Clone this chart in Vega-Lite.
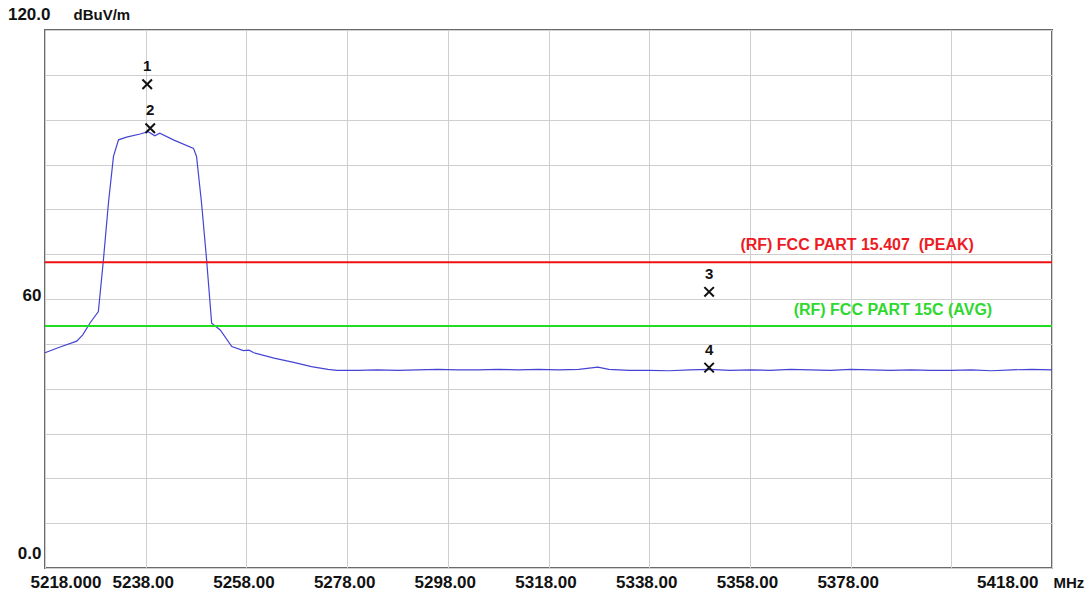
{
  "$schema": "https://vega.github.io/schema/vega-lite/v6.json",
  "width": 1007,
  "height": 538,
  "autosize": {"type": "none"},
  "padding": {"left": 45, "top": 30, "right": 40, "bottom": 26},
  "background": "white",
  "config": {
    "view": {"stroke": "#6a6a6a", "strokeWidth": 2},
    "font": "Liberation Sans"
  },
  "datasets": {
    "trace": [
      {"freq": 5218.0, "level": 48.0},
      {"freq": 5221.0, "level": 49.3},
      {"freq": 5224.3, "level": 50.6},
      {"freq": 5225.5, "level": 52.0},
      {"freq": 5226.9, "level": 54.6},
      {"freq": 5228.6, "level": 57.2},
      {"freq": 5229.6, "level": 68.7},
      {"freq": 5230.6, "level": 81.4},
      {"freq": 5231.6, "level": 91.8},
      {"freq": 5232.6, "level": 95.5},
      {"freq": 5234.2, "level": 96.1},
      {"freq": 5236.9, "level": 96.8},
      {"freq": 5238.5, "level": 97.3},
      {"freq": 5239.8, "level": 96.4},
      {"freq": 5240.8, "level": 97.0},
      {"freq": 5243.5, "level": 95.5},
      {"freq": 5247.5, "level": 93.6},
      {"freq": 5248.1, "level": 91.8},
      {"freq": 5249.1, "level": 81.3},
      {"freq": 5250.1, "level": 68.7},
      {"freq": 5251.1, "level": 54.6},
      {"freq": 5252.8, "level": 53.1},
      {"freq": 5255.1, "level": 49.4},
      {"freq": 5257.4, "level": 48.5},
      {"freq": 5258.5, "level": 48.6},
      {"freq": 5259.5, "level": 48.0},
      {"freq": 5263.5, "level": 46.8},
      {"freq": 5267.6, "level": 45.8},
      {"freq": 5270.9, "level": 44.9},
      {"freq": 5274.2, "level": 44.3},
      {"freq": 5276.0, "level": 44.1},
      {"freq": 5280.0, "level": 44.1},
      {"freq": 5284.0, "level": 44.2},
      {"freq": 5288.0, "level": 44.1},
      {"freq": 5292.0, "level": 44.2},
      {"freq": 5296.0, "level": 44.3},
      {"freq": 5300.0, "level": 44.2},
      {"freq": 5304.0, "level": 44.2},
      {"freq": 5308.0, "level": 44.3},
      {"freq": 5312.0, "level": 44.2},
      {"freq": 5316.0, "level": 44.3},
      {"freq": 5320.0, "level": 44.2},
      {"freq": 5324.0, "level": 44.3},
      {"freq": 5327.8, "level": 44.8},
      {"freq": 5330.0, "level": 44.3},
      {"freq": 5334.0, "level": 44.1},
      {"freq": 5338.0, "level": 44.1},
      {"freq": 5342.0, "level": 44.0},
      {"freq": 5346.0, "level": 44.2},
      {"freq": 5350.0, "level": 44.3},
      {"freq": 5354.0, "level": 44.1},
      {"freq": 5358.0, "level": 44.2},
      {"freq": 5362.0, "level": 44.1},
      {"freq": 5366.0, "level": 44.3},
      {"freq": 5370.0, "level": 44.2},
      {"freq": 5374.0, "level": 44.1},
      {"freq": 5378.0, "level": 44.3},
      {"freq": 5382.0, "level": 44.2},
      {"freq": 5386.0, "level": 44.1},
      {"freq": 5390.0, "level": 44.2},
      {"freq": 5394.0, "level": 44.1},
      {"freq": 5398.0, "level": 44.1},
      {"freq": 5402.0, "level": 44.2},
      {"freq": 5406.0, "level": 44.0},
      {"freq": 5410.0, "level": 44.2},
      {"freq": 5414.0, "level": 44.3},
      {"freq": 5418.0, "level": 44.2}
    ],
    "limits": [
      {"limit": "(RF) FCC PART 15.407\u00a0 (PEAK)", "level": 68.2},
      {"limit": "(RF) FCC PART 15C (AVG)", "level": 54.0}
    ],
    "markers": [
      {"marker": "1", "freq": 5238.3, "level": 107.9},
      {"marker": "2", "freq": 5238.9, "level": 98.1},
      {"marker": "3", "freq": 5349.9, "level": 61.6},
      {"marker": "4", "freq": 5349.9, "level": 44.7}
    ]
  },
  "layer": [
    {
      "data": {"name": "trace"},
      "mark": {"type": "line", "color": "#4444d4", "strokeWidth": 1.2, "interpolate": "linear"},
      "encoding": {
        "x": {
          "field": "freq", "type": "quantitative",
          "scale": {"domain": [5218, 5418], "nice": false, "zero": false},
          "axis": {
            "values": [5218, 5238, 5258, 5278, 5298, 5318, 5338, 5358, 5378, 5398, 5418],
            "labelExpr": "datum.value == 5218 ? '5218.000' : (datum.value == 5398 ? '' : format(datum.value, '.2f'))",
            "labelAlign": {"condition": [{"test": "datum.value == 5218", "value": "left"}, {"test": "datum.value == 5418", "value": "right"}], "value": "center"},
            "labelOffset": {"condition": [{"test": "datum.value == 5218", "value": -15}, {"test": "datum.value == 5418", "value": -14}], "value": -3},
            "labelFlush": false,
            "labelOverlap": false,
            "labelFont": "Liberation Sans",
            "labelFontSize": 17,
            "labelFontWeight": "bold",
            "labelColor": "#111111",
            "labelBaseline": "middle",
            "labelPadding": 14,
            "ticks": false,
            "tickSize": 0,
            "domain": false,
            "grid": true,
            "gridColor": "#cfcfcf",
            "gridWidth": 1,
            "title": "MHz",
            "titleFont": "Liberation Sans",
            "titleFontSize": 15,
            "titleFontWeight": "bold",
            "titleColor": "#111111",
            "titleAlign": "left",
            "titleBaseline": "middle",
            "titleAnchor": null,
            "titleX": 1008,
            "titleY": 14
          }
        },
        "y": {
          "field": "level", "type": "quantitative",
          "scale": {"domain": [0, 120], "nice": false, "zero": false},
          "axis": {
            "values": [0, 10, 20, 30, 40, 50, 60, 70, 80, 90, 100, 110, 120],
            "labelExpr": "datum.value == 0 ? '0.0' : (datum.value == 60 ? '60' : (datum.value == 120 ? '120.0' : ''))",
            "labelOffset": {"condition": [{"test": "datum.value == 120", "value": -16}, {"test": "datum.value == 0", "value": -15}], "value": -4},
            "labelPadding": {"condition": {"test": "datum.value == 120", "value": -5}, "value": 4},
            "labelAlign": "right",
            "labelBaseline": "middle",
            "labelFlush": false,
            "labelOverlap": false,
            "labelFont": "Liberation Sans",
            "labelFontSize": 17,
            "labelFontWeight": "bold",
            "labelColor": "#111111",
            "ticks": false,
            "tickSize": 0,
            "domain": false,
            "grid": true,
            "gridColor": "#cfcfcf",
            "gridWidth": 1,
            "title": "dBuV/m",
            "titleFont": "Liberation Sans",
            "titleFontSize": 15,
            "titleFontWeight": "bold",
            "titleColor": "#111111",
            "titleAngle": 0,
            "titleAlign": "left",
            "titleBaseline": "middle",
            "titleAnchor": null,
            "titleX": 28,
            "titleY": -16
          }
        }
      }
    },
    {
      "data": {"name": "limits"},
      "mark": {"type": "rule", "strokeWidth": 2},
      "encoding": {
        "y": {"field": "level", "type": "quantitative"},
        "color": {
          "field": "limit", "type": "nominal",
          "scale": {"domain": ["(RF) FCC PART 15.407\u00a0 (PEAK)", "(RF) FCC PART 15C (AVG)"], "range": ["#f01010", "#22dd22"]},
          "legend": null
        }
      }
    },
    {
      "data": {"name": "limits"},
      "transform": [{"filter": "datum.level > 60"}],
      "mark": {"type": "text", "font": "Liberation Sans", "fontSize": 16, "fontWeight": "bold", "color": "#ee1b24", "baseline": "middle", "align": "center", "dy": -17},
      "encoding": {
        "x": {"datum": 5379.3, "type": "quantitative"},
        "y": {"field": "level", "type": "quantitative"},
        "text": {"field": "limit"}
      }
    },
    {
      "data": {"name": "limits"},
      "transform": [{"filter": "datum.level < 60"}],
      "mark": {"type": "text", "font": "Liberation Sans", "fontSize": 16, "fontWeight": "bold", "color": "#2fd82f", "baseline": "middle", "align": "center", "dy": -16},
      "encoding": {
        "x": {"datum": 5386.4, "type": "quantitative"},
        "y": {"field": "level", "type": "quantitative"},
        "text": {"field": "limit"}
      }
    },
    {
      "data": {"name": "markers"},
      "mark": {"type": "point", "shape": "M-1,-1L1,1M1,-1L-1,1", "filled": false, "stroke": "#111111", "strokeWidth": 2, "size": 90, "opacity": 1},
      "encoding": {
        "x": {"field": "freq", "type": "quantitative"},
        "y": {"field": "level", "type": "quantitative"}
      }
    },
    {
      "data": {"name": "markers"},
      "mark": {"type": "text", "font": "Liberation Sans", "fontSize": 15, "fontWeight": "bold", "color": "#111111", "baseline": "middle", "align": "center", "dy": -18},
      "encoding": {
        "x": {"field": "freq", "type": "quantitative"},
        "y": {"field": "level", "type": "quantitative"},
        "text": {"field": "marker"}
      }
    }
  ]
}
